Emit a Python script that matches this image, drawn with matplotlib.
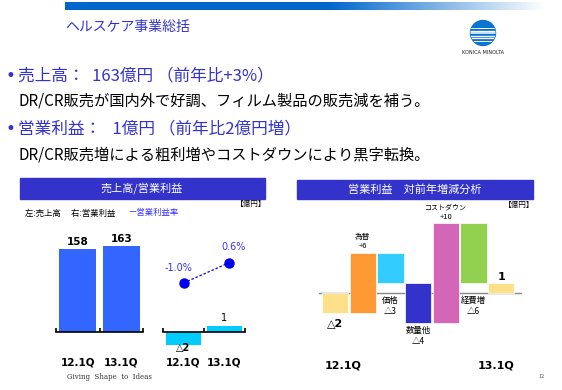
import matplotlib
matplotlib.use('Agg')
import matplotlib.pyplot as plt
import matplotlib.patches as mpatches
import numpy as np

plt.rcParams['font.family'] = ['Noto Sans CJK JP', 'DejaVu Sans']

W, H = 562, 390

# left chart: sales and operating profit
periods = ['12.1Q', '13.1Q']
sales = [158, 163]
op_profit = [-2, 1]
op_profit_labels = ['△2', '1']
op_margin = [-1.0, 0.6]
op_margin_labels = ['-1.0%', '0.6%']

# right chart: operating profit bridge
bridge_names = ['12.1Q', '為替', '価格', '数量他', 'コストダウン', '経費増', '13.1Q']
bridge_deltas = [-2, 6, -3, -4, 10, -6, 1]
bridge_labels = ['△2', '+6', '△3', '△4', '+10', '△6', '1']
bridge_colors = ['#ffe08a', '#ff9933', '#33ccff', '#3333cc', '#d466b8', '#92d050', '#ffe08a']

BLUE_TEXT = '#3333cc'


def px_axes(fig, x0, y0, x1, y1):
    return fig.add_axes([x0 / W, 1 - y1 / H, (x1 - x0) / W, (y1 - y0) / H])


fig = plt.figure(figsize=(W / 100, H / 100), dpi=100)
fig.patch.set_facecolor('white')

# overlay in pixel coordinates for slide decorations
bg = fig.add_axes([0, 0, 1, 1])
bg.axis('off')

# gradient band at top
n = 400
t = np.linspace(0, 1, n)
fade = np.clip((t - 0.55) / 0.45, 0, 1)
base = np.array([0x00, 0x66, 0xcc]) / 255
grad = base[None, :] * (1 - fade[:, None]) + fade[:, None]
bg.imshow(grad[None, :, :], extent=[65, 545, 10, 2], aspect='auto', zorder=1)
bg.set_xlim(0, W)
bg.set_ylim(H, 0)

bg.text(65, 27, 'ヘルスケア事業総括', fontsize=10, color=BLUE_TEXT, va='center')

# logo
circ = mpatches.Circle((483, 33), 12.5, color='#0a74d0', zorder=2)
bg.add_patch(circ)
for yy, lw in [(28, 0.7), (30.5, 0.9), (33, 1.1), (35.5, 1.0), (38, 0.9), (40.5, 0.7)]:
    ln, = bg.plot([469, 497], [yy, yy], color='white', lw=lw, zorder=3)
    ln.set_clip_path(circ)
bg.text(483, 52, 'KONICA MINOLTA', fontsize=3.6, ha='center', va='center',
        family='DejaVu Sans', color='#222222')

# bullet text
bg.text(6, 76, '•', fontsize=12, color=BLUE_TEXT, va='center', family='DejaVu Sans')
bg.text(18, 76, '売上高：  163億円 （前年比+3%）', fontsize=12, color=BLUE_TEXT, va='center')
bg.text(18, 101, 'DR/CR販売が国内外で好調、フィルム製品の販売減を補う。', fontsize=11,
        color='black', va='center')
bg.text(6, 129, '•', fontsize=12, color=BLUE_TEXT, va='center', family='DejaVu Sans')
bg.text(18, 129, '営業利益：   1億円 （前年比2億円増）', fontsize=12, color=BLUE_TEXT, va='center')
bg.text(18, 155, 'DR/CR販売増による粗利増やコストダウンにより黒字転換。', fontsize=11,
        color='black', va='center')

# header bars
bg.add_patch(mpatches.Rectangle((20, 178), 245, 21, color='#3333cc'))
bg.text(142, 188.5, '売上高/営業利益', fontsize=8, color='white', ha='center', va='center')
bg.add_patch(mpatches.Rectangle((297, 180), 236, 19, color='#3333cc'))
bg.text(415, 189.5, '営業利益　対前年増減分析', fontsize=8, color='white', ha='center', va='center')

bg.text(266, 204, '【億円】', fontsize=5.5, ha='right', va='center')
bg.text(534, 205, '【億円】', fontsize=5.5, ha='right', va='center')
bg.text(25, 213, '左:売上高　 右:営業利益', fontsize=6, va='center')
bg.text(128, 213, 'ー営業利益率', fontsize=6, va='center', color='#3333ff')

bg.text(67, 377, 'Giving  Shape  to  Ideas', fontsize=5, va='center',
        family='DejaVu Serif', color='#333333')
bg.text(542, 377, '12', fontsize=4, ha='center', va='center', color='#555555')

# sales bars
ax1 = px_axes(fig, 56, 232, 143, 332)
x = np.arange(len(periods)) + 0.5
bars = ax1.bar(x, sales, width=0.84, color='#3366ff')
for b, v in zip(bars, sales):
    ax1.text(b.get_x() + b.get_width() / 2, v + 13, str(v), ha='center', va='center',
             fontsize=7.5, fontweight='bold', family='DejaVu Sans')
ax1.set_xlim(0, 2)
ax1.set_ylim(0, 190)


def style_cat_axis(ax, pad):
    for s in ['top', 'right', 'left']:
        ax.spines[s].set_visible(False)
    ax.patch.set_alpha(0)
    ax.spines['bottom'].set_linewidth(1.2)
    ax.set_yticks([])
    ax.set_xticks([0.5, 1.5])
    ax.set_xticklabels(periods, fontsize=7.5, fontweight='bold', family='DejaVu Sans')
    ax.set_xticks([0, 1, 2], minor=True)
    ax.tick_params(axis='x', which='major', length=0, pad=pad)
    ax.tick_params(axis='x', which='minor', direction='in', length=3, width=1.2)


style_cat_axis(ax1, 18.5)

# operating profit bars + margin
ax2 = px_axes(fig, 163, 250, 245, 350)
ax2.set_xlim(0, 2)
ax2.set_ylim(-(350 - 332) / 6.5, (332 - 250) / 6.5)
bars = ax2.bar(x, op_profit, width=0.83, color='#00ccff')
for b, v, lab in zip(bars, op_profit, op_profit_labels):
    cx = b.get_x() + b.get_width() / 2
    if v < 0:
        ax2.text(cx, v - 0.5, lab, ha='center', va='center', fontsize=7,
                 fontweight='bold', family='DejaVu Sans')
    else:
        ax2.text(cx, v + 1.1, lab, ha='center', va='center', fontsize=7,
                 family='DejaVu Sans')
ax2.spines['bottom'].set_position(('data', 0))
style_cat_axis(ax2, 18.5)

ax3 = px_axes(fig, 163, 250, 245, 350)
ax3.axis('off')
ax3.set_xlim(0, 2)
ax3.set_ylim(-1.0 - (350 - 283) / 12.5, -1.0 + (283 - 250) / 12.5)
mx = [0.5, 1.6]
ax3.plot(mx, op_margin, ls=(0, (2, 1.5)), color='#0000ee', lw=0.9)
ax3.plot(mx, op_margin, 'o', color='#0000ee', ms=6.5)
ax3.text(mx[0] - 0.13, op_margin[0] + 1.2, op_margin_labels[0], ha='center', va='center',
         fontsize=7, color='#3333ff', family='DejaVu Sans')
ax3.text(mx[1] + 0.11, op_margin[1] + 1.28, op_margin_labels[1], ha='center', va='center',
         fontsize=7, color='#3333ff', family='DejaVu Sans')

# bridge chart
ax4 = px_axes(fig, 319, 200, 522, 350)
ax4.axis('off')
ax4.set_xlim(-0.58, 6.75)
ax4.set_ylim(-(350 - 293) / 10, (293 - 200) / 10)
ax4.axhline(0, color='#888888', lw=1, zorder=1)
bottoms, heights = [], []
level = 0
for i, d in enumerate(bridge_deltas):
    if i == 0 or i == len(bridge_deltas) - 1:
        bottoms.append(0)
        level = d
    else:
        bottoms.append(level)
        level += d
    heights.append(d)
xb = np.arange(len(bridge_deltas))
ax4.bar(xb, heights, bottom=bottoms, width=0.95, color=bridge_colors,
        edgecolor='white', linewidth=0.5, zorder=2)

last = len(bridge_deltas) - 1
for i, (name, d, lab) in enumerate(zip(bridge_names, bridge_deltas, bridge_labels)):
    top = max(bottoms[i], bottoms[i] + d)
    low = min(bottoms[i], bottoms[i] + d)
    if i == 0:
        ax4.text(i, low - 1.0, lab, ha='center', va='center', fontsize=8, fontweight='bold',
                 family='DejaVu Sans')
    elif i == last:
        ax4.text(i, top + 0.6, lab, ha='center', va='center', fontsize=8, fontweight='bold',
                 family='DejaVu Sans')
    elif d > 0:
        gap = 0.6 if d > 8 else 0.65
        ax4.text(i, top + gap, lab, ha='center', va='center', fontsize=5.5)
        ax4.text(i, top + gap + (0.95 if d > 8 else 1.0), name, ha='center', va='center',
                 fontsize=5 if d > 8 else 5.5)
    else:
        ref = min(low, 0)
        ax4.text(i, ref - 0.75, name, ha='center', va='center', fontsize=6)
        ax4.text(i, ref - 1.85, lab, ha='center', va='center', fontsize=6)

ax4.text(0.3, -7.3, bridge_names[0], ha='center', va='center', fontsize=8,
         fontweight='bold', family='DejaVu Sans')
ax4.text(5.8, -7.3, bridge_names[-1], ha='center', va='center', fontsize=8,
         fontweight='bold', family='DejaVu Sans')

fig.savefig('out.png', dpi=100)
